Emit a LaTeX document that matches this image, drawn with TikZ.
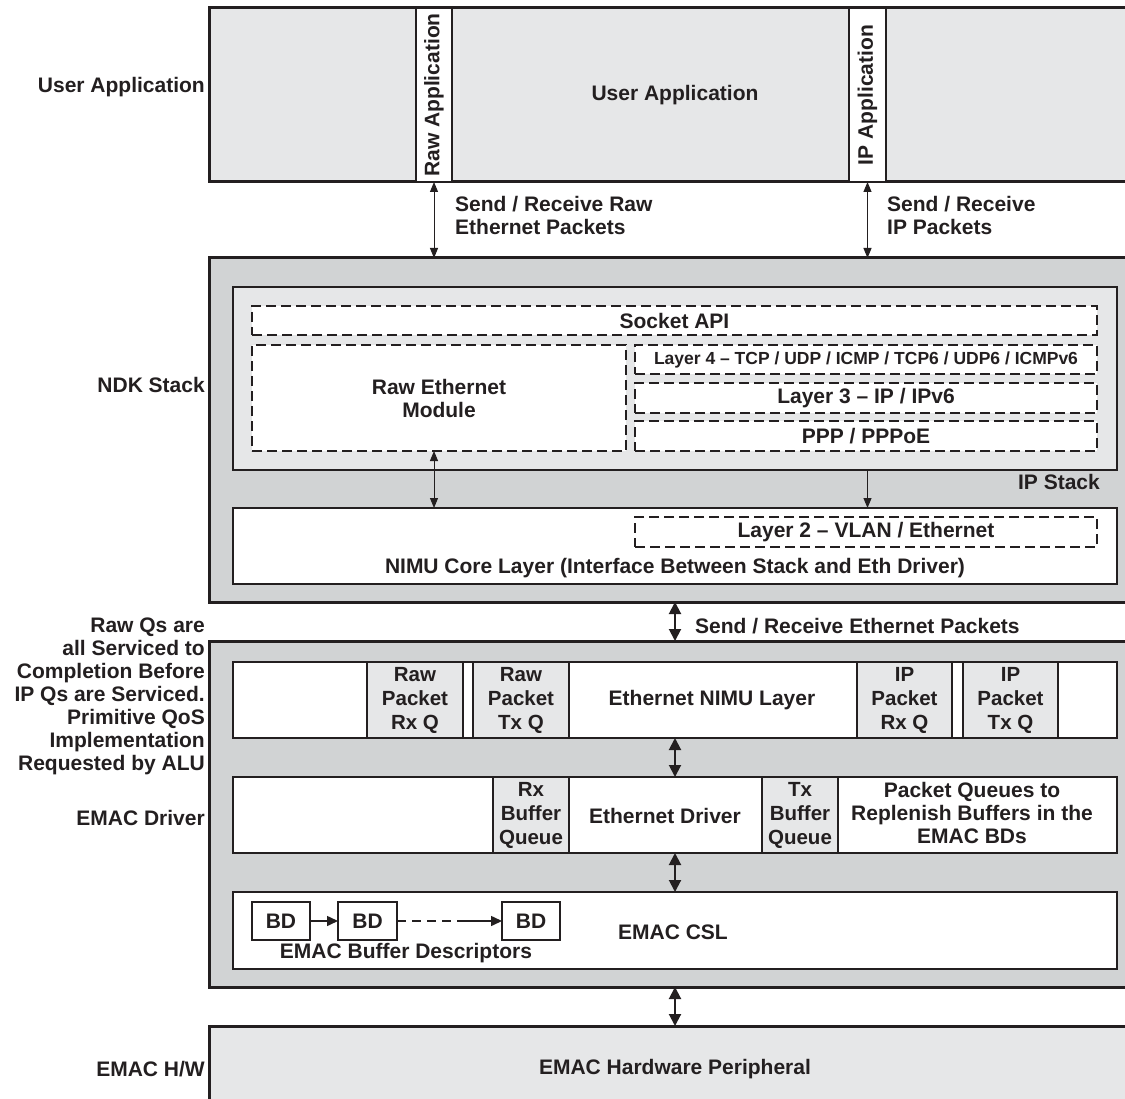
\documentclass[tikz,border=0pt]{standalone}
\usepackage{fontspec}
\setmainfont{Liberation Sans}
\usetikzlibrary{arrows.meta}

\definecolor{inkblack}{HTML}{231F20}
\definecolor{panelgray}{HTML}{E6E7E8}
\definecolor{stackgray}{HTML}{D1D3D4}

\tikzset{
  layer/.style={draw=inkblack, line width=2pt, fill=white, anchor=north west,
    inner sep=0pt, outer sep=0pt},
  outerlayer/.style={layer, line width=3pt},
  dashbox/.style={layer, dash pattern=on 10pt off 5pt},
  queuebox/.style={layer, line width=1.5pt, fill=panelgray, align=center,
    font=\fontsize{20.5}{24}\selectfont\bfseries},
  bdbox/.style={layer, minimum width=58pt, minimum height=38pt},
  thinlink/.style={line width=1pt, inkblack, {Triangle[length=10pt,width=8pt]}-{Triangle[length=10pt,width=8pt]}},
  thicklink/.style={line width=2pt, inkblack, {Triangle[length=12pt,width=12pt]}-{Triangle[length=12pt,width=12pt]}},
  sidelabel/.style={anchor=east, align=right, inner sep=0pt},
  linklabel/.style={anchor=west, align=left, inner sep=0pt}
}

\begin{document}
\begin{tikzpicture}[x=1pt, y=-1pt, font=\fontsize{21}{23}\selectfont\bfseries, text=inkblack]
\clip (0,0) rectangle (1125,1099);
\fill[white] (0,0) rectangle (1125,1099);

% user application
\node[outerlayer, fill=panelgray, minimum width=926pt, minimum height=174pt] (userapp) at (209,8) {};
\node[layer, minimum width=36pt, minimum height=174pt] (rawapp) at (416,8) {};
\node[layer, minimum width=37pt, minimum height=174pt] (ipapp) at (849,8) {};
\node[rotate=90] (rawapptext) at (rawapp.center) {Raw Application};
\node[rotate=90] (ipapptext) at (ipapp.center) {IP Application};
\node (userapptext) at (675,95) {User Application};

% NDK stack
\node[outerlayer, fill=stackgray, minimum width=926pt, minimum height=344pt] (ndk) at (209,258) {};
\node[layer, fill=panelgray, minimum width=884pt, minimum height=183pt] (ipstack) at (233,287) {};
\node[dashbox, minimum width=845pt, minimum height=29pt] (socket) at (252,306) {};
\node[dashbox, minimum width=374pt, minimum height=106pt] (rawmod) at (252,345) {};
\node[dashbox, minimum width=462pt, minimum height=29pt] (layerfour) at (635,345) {};
\node[dashbox, minimum width=462pt, minimum height=30pt] (layerthree) at (635,383) {};
\node[dashbox, minimum width=462pt, minimum height=30pt] (ppp) at (635,421) {};
\node[layer, minimum width=884pt, minimum height=76pt] (nimucore) at (233,508) {};
\node[dashbox, minimum width=462pt, minimum height=30pt] (layertwo) at (635,517) {};

\node (sockettext) at (socket.center) {Socket API};
\node[align=center] (rawmodtext) at (439,398) {Raw Ethernet\\Module};
\node[font=\fontsize{17.5}{20}\selectfont\bfseries] (layerfourtext) at (layerfour.center) {Layer 4 -- TCP / UDP / ICMP / TCP6 / UDP6 / ICMPv6};
\node (layerthreetext) at (layerthree.center) {Layer 3 -- IP / IPv6};
\node (ppptext) at (ppp.center) {PPP / PPPoE};
\node[anchor=east, inner sep=0pt] (ipstacktext) at (1100,482) {IP Stack};
\node (layertwotext) at (layertwo.center) {Layer 2 -- VLAN / Ethernet};
\node (nimucoretext) at (675,568) {NIMU Core Layer (Interface Between Stack and Eth Driver)};

% EMAC driver
\node[outerlayer, fill=stackgray, minimum width=926pt, minimum height=346pt] (emacdrv) at (209,641) {};
\node[layer, minimum width=884pt, minimum height=76pt] (nimulayer) at (233,662) {};
\node[queuebox, minimum width=96pt, minimum height=76pt] (rawrx) at (367,662) {Raw\\Packet\\Rx Q};
\node[queuebox, minimum width=96pt, minimum height=76pt] (rawtx) at (473,662) {Raw\\Packet\\Tx Q};
\node[queuebox, minimum width=95pt, minimum height=76pt] (iprx) at (857,662) {IP\\Packet\\Rx Q};
\node[queuebox, minimum width=95pt, minimum height=76pt] (iptx) at (963,662) {IP\\Packet\\Tx Q};
\node (nimulayertext) at (712,700) {Ethernet NIMU Layer};

\node[layer, minimum width=884pt, minimum height=76pt] (ethdrv) at (233,777) {};
\node[queuebox, minimum width=76pt, minimum height=76pt] (rxbuf) at (493,777) {Rx\\Buffer\\Queue};
\node[queuebox, minimum width=76pt, minimum height=76pt] (txbuf) at (762,777) {Tx\\Buffer\\Queue};
\node (ethdrvtext) at (665,816) {Ethernet Driver};
\node[align=center] (replenish) at (972,813) {Packet Queues to\\Replenish Buffers in the\\EMAC BDs};

\node[layer, minimum width=884pt, minimum height=77pt] (csl) at (233,892) {};
\node[bdbox] (bdone) at (252,902) {};
\node[bdbox, minimum width=59pt] (bdtwo) at (338,902) {};
\node[bdbox] (bdthree) at (502,902) {};
\node (bdonetext) at (bdone.center) {BD};
\node (bdtwotext) at (bdtwo.center) {BD};
\node (bdthreetext) at (bdthree.center) {BD};
\coordinate (bdgap) at (463,921);
\node (bdlabel) at (406,953) {EMAC Buffer Descriptors};
\node (csltext) at (673,932) {EMAC CSL};

% EMAC hardware
\node[outerlayer, fill=panelgray, minimum width=926pt, minimum height=100pt] (hw) at (209,1026) {};
\node (hwtext) at (675,1069) {EMAC Hardware Peripheral};

% side labels
\node[sidelabel] (userapplabel) at (205,87) {User Application};
\node[sidelabel] (ndklabel) at (205,385) {NDK Stack};
\node[sidelabel] (qoslabel) at (205,696) {Raw Qs are\\all Serviced to\\Completion Before\\IP Qs are Serviced.\\Primitive QoS\\Implementation\\Requested by ALU};
\node[sidelabel] (emacdrvlabel) at (205,818) {EMAC Driver};
\node[sidelabel] (hwlabel) at (205,1069) {EMAC H/W};

% links
\draw[thinlink] (rawapp.south) -- (rawapp.south |- ndk.north);
\draw[thinlink] (ipapp.south) -- (ipapp.south |- ndk.north);
\node[linklabel] (rawlinktext) at (455,215) {Send / Receive Raw\\Ethernet Packets};
\node[linklabel] (iplinktext) at (887,215) {Send / Receive\\IP Packets};

\draw[thinlink] (rawapp.south |- rawmod.south) -- (rawapp.south |- nimucore.north);
\draw[line width=1pt, inkblack, -{Triangle[length=10pt,width=8pt]}] (ipapp.south |- ipstack.south) -- (ipapp.south |- nimucore.north);

\draw[thicklink] (675,602) coordinate (ndkout) -- (ndkout |- emacdrv.north);
\node[linklabel] (ethlinktext) at (695,626) {Send / Receive Ethernet Packets};
\draw[thicklink] (ndkout |- nimulayer.south) -- (ndkout |- ethdrv.north);
\draw[thicklink] (ndkout |- ethdrv.south) -- (ndkout |- csl.north);
\draw[thicklink] (ndkout |- emacdrv.south) -- (ndkout |- hw.north);

\draw[line width=1.5pt, inkblack, -{Triangle[length=11pt,width=10pt]}] (bdone.east) -- (bdtwo.west);
\draw[line width=1.5pt, inkblack, dash pattern=on 9pt off 6pt] (bdtwo.east) -- (bdgap);
\draw[line width=1.5pt, inkblack, -{Triangle[length=11pt,width=10pt]}] (bdgap) -- (bdthree.west);
\end{tikzpicture}
\end{document}
